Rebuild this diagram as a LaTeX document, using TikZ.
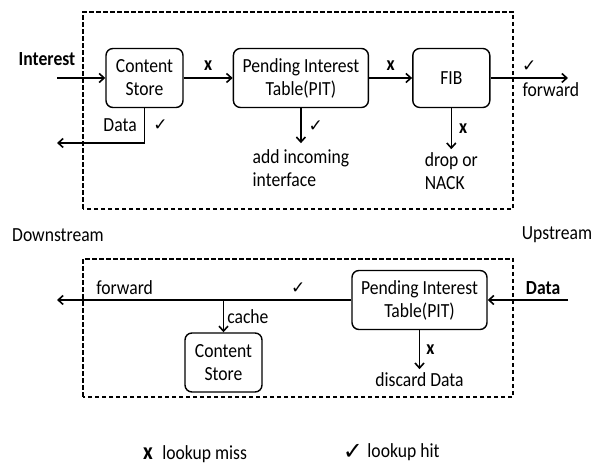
\documentclass[tikz,border=0pt]{standalone}
\usepackage{fontspec}
\setmainfont[FakeStretch=0.88]{Carlito}
\newfontfamily\symfont{DejaVu Sans}
\usetikzlibrary{positioning,arrows.meta}
\newcommand{\basefont}{\fontsize{20pt}{23pt}\selectfont}
\newcommand{\hitmark}{{\symfont\fontsize{17pt}{17pt}\selectfont ✓}}
\newcommand{\missmark}{\textbf{x}}

\begin{document}
\begin{tikzpicture}[
    x = 1pt, y = 1pt,
    > = {Straight Barb[length=5pt,width=9pt]},
    font = \basefont,
    block/.style={draw, rounded corners=7pt, line width=1.4pt, minimum width=77pt, minimum height=59pt, align=center, inner sep=2pt},
    wide/.style={block, minimum width=135pt},
    flow/.style={->, line width=1.6pt},
    frame/.style={line width=1.1pt, dash pattern=on 4.5pt off 2.5pt},
    tag/.style={inner sep=1pt},
    heavy/.style={font=\basefont\bfseries}
]
\useasboundingbox (0,0) rectangle (600,470);

% Dashed frames
\draw[frame] (83,261) rectangle (513,458);
\draw[frame] (83,73) rectangle (513,211);

% Interest direction
\node[block] (cs) at (144.5,392) {Content\\Store};
\node[wide, right=49pt of cs] (pit) {Pending Interest\\Table(PIT)};
\node[block, right=43pt of pit] (fib) {FIB};

\coordinate (inL) at (57,392);
\coordinate (outR) at (568,392);
\coordinate (backL) at (57,327);
\coordinate[below=35pt of pit.south] (addEnd);
\coordinate[below=41pt of fib.south] (dropEnd);

\node[heavy] (interest) at (47,411) {Interest};

\draw[flow] (inL) -- (cs);
\draw[flow] (cs) -- node[tag, above=6pt] (csmiss) {\missmark} (pit);
\draw[flow] (pit) -- node[tag, above=6pt] (pitmiss) {\missmark} (fib);
\draw[flow] (fib) -- node[tag, above=5pt] (fibhit) {\hitmark}
    node[tag, pos=0.78, below=3pt] (fwdtop) {forward} (outR);
\draw[flow] (cs.south) |- node[tag, pos=0.25, left=6pt] (datatop) {Data}
    node[tag, pos=0.25, right=7pt] (cshit) {\hitmark} (backL);
\draw[flow] (pit.south) -- node[tag, right=6pt] (pithit) {\hitmark} (addEnd)
    node[below=5pt, align=left, inner sep=1pt] (addtext) {add incoming\\interface};
\draw[flow] (fib.south) -- node[tag, right=6pt] (fibmiss) {\missmark} (dropEnd)
    node[below=2pt, align=left, inner sep=1pt] (droptext) {drop or\\NACK};

% Sides
\node (down) at (58,235) {Downstream};
\node (up) at (557,235) {Upstream};

% Data direction
\node[wide] (pit2) at (419.5,170) {Pending Interest\\Table(PIT)};
\node[block] (cs2) at (223.5,107.5) {Content\\Store};

\coordinate (fwdL) at (57,170);
\coordinate (dataR) at (568,170);
\coordinate (split) at (cs2.north |- pit2.west);
\coordinate[below=39pt of pit2.south] (discEnd);

\draw[flow] (pit2) -- node[tag, pos=0.18, above=5pt] (pit2hit) {\hitmark}
    node[tag, pos=0.77, above=4pt] (fwdbot) {forward} (fwdL);
\draw[flow] (split) -- node[tag, right=2pt] (cachetext) {cache} (cs2);
\draw[flow] (dataR) -- node[heavy, tag, pos=0.31, above=4pt] (databot) {Data} (pit2);
\draw[flow] (pit2.south) -- node[tag, right=5pt] (pit2miss) {\missmark} (discEnd)
    node[below=2pt, inner sep=1pt] (disctext) {discard Data};

% Legend
\node[inner sep=0pt] (missicon) at (148,16) {\bfseries\fontsize{24pt}{24pt}\selectfont x};
\node[inner sep=0pt, right=9pt of missicon] (misstext) {lookup miss};
\node[inner sep=0pt] (hiticon) at (353,18) {{\symfont\fontsize{24pt}{24pt}\selectfont ✓}};
\node[inner sep=0pt, right=4pt of hiticon] (hittext) {lookup hit};
\end{tikzpicture}
\end{document}
